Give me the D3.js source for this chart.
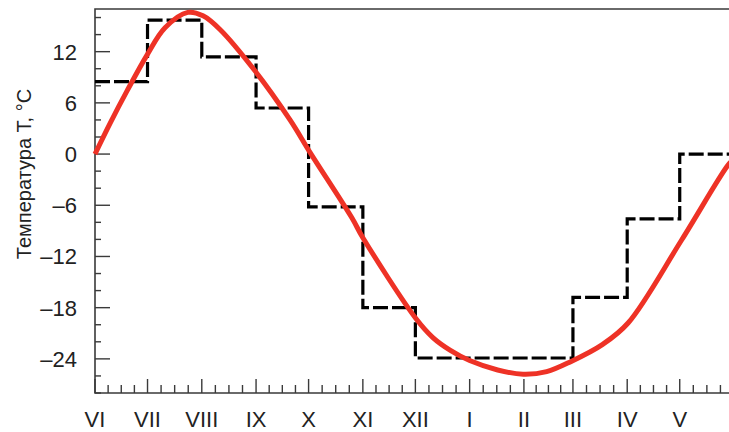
<!DOCTYPE html>
<html>
<head>
<meta charset="utf-8">
<script src="https://cdn.jsdelivr.net/npm/d3@7"></script>
<style>
  html, body { margin: 0; padding: 0; background: #fff; }
  svg { display: block; font-family: "Liberation Sans", Arial, sans-serif; }
</style>
</head>
<body>
<svg id="chart" width="729" height="432"></svg>
<script>
// ── Data ──────────────────────────────────────────────────────────────────────

const months    = ['VI', 'VII', 'VIII', 'IX', 'X', 'XI', 'XII', 'I', 'II', 'III', 'IV', 'V'];
const monthDays = [30, 31, 31, 30, 31, 30, 31, 31, 28, 31, 30, 31];

// monthly mean temperature (dashed step line)
const monthMean = [8.5, 15.7, 11.4, 5.4, -6.2, -18.0, -23.9, -23.9, -23.9, -16.8, -7.6, 0];

// smoothed annual course (red line), day counted from 1 June
const curveDay  = [0, 8.6, 18.3, 29.7, 40, 53, 61.7, 71.4, 90.8, 111.4, 122.8, 146.8, 153, 183.4, 193, 203, 214, 230, 244.5, 258, 272, 290, 304.5, 335, 361.6, 365];
const curveTemp = [0, 3.6, 7.4, 11.6, 14.8, 16.6, 16.2, 14.6, 9.9, 4.0, 0.2, -7.5, -9.8, -19.3, -21.5, -23.0, -24.2, -25.3, -25.8, -25.5, -24.3, -22.3, -19.8, -10.1, -1.3, -0.6];

const yTicks = [-24, -18, -12, -6, 0, 6, 12];

// ── Layout ────────────────────────────────────────────────────────────────────

const svg = d3.select('#chart');
const plotL = 95, plotR = 734, plotT = 9, plotB = 393;

const x = d3.scaleLinear().domain([0, 365]).range([plotL, plotR]);
const y = d3.scaleLinear().domain([-28, 17]).range([plotB, plotT]);

const monthStart = d3.cumsum([0, ...monthDays]);   // 13 boundaries
const axisColor = '#3a3a3a';

// ── Axes ──────────────────────────────────────────────────────────────────────

const g = svg.append('g');

// frame: left, bottom, top
g.append('path')
  .attr('d', `M${plotR},${plotT}H${plotL}V${plotB}H${plotR}`)
  .attr('fill', 'none').attr('stroke', axisColor).attr('stroke-width', 1.6);

// y ticks (inward)
d3.range(-28, 17, 2).forEach(v => {
  const major = v % 6 === 0;
  g.append('line')
    .attr('x1', plotL).attr('x2', plotL + (major ? 15 : 6))
    .attr('y1', y(v)).attr('y2', y(v))
    .attr('stroke', axisColor).attr('stroke-width', 1.4);
});

g.selectAll('text.ytick').data(yTicks).join('text')
  .attr('class', 'ytick')
  .attr('x', 77).attr('y', d => y(d))
  .attr('dy', '0.36em')
  .attr('text-anchor', 'end')
  .attr('font-size', 22).attr('fill', '#222')
  .text(d => d < 0 ? '–' + Math.abs(d) : d);

// x ticks (inward), four per month
monthDays.forEach((len, i) => {
  for (let q = 0; q < 4; q++) {
    const d = monthStart[i] + len * q / 4;
    g.append('line')
      .attr('x1', x(d)).attr('x2', x(d))
      .attr('y1', plotB).attr('y2', plotB - (q === 0 ? 14 : 8))
      .attr('stroke', axisColor).attr('stroke-width', 1.4);
  }
});

g.selectAll('text.xtick').data(months).join('text')
  .attr('class', 'xtick')
  .attr('x', (d, i) => x(monthStart[i]))
  .attr('y', 427)
  .attr('text-anchor', 'middle')
  .attr('font-size', 22).attr('fill', '#222')
  .text(d => d);

g.append('text')
  .attr('transform', 'translate(31,174) rotate(-90)')
  .attr('text-anchor', 'middle')
  .attr('font-size', 20).attr('fill', '#222')
  .text('Температура T, °C');

// ── Series ────────────────────────────────────────────────────────────────────

const stepData = monthMean.map((v, i) => ({ d: monthStart[i], v }))
  .concat([{ d: 365, v: monthMean[monthMean.length - 1] }]);

svg.append('path')
  .datum(stepData)
  .attr('fill', 'none')
  .attr('stroke', '#000')
  .attr('stroke-width', 3.2)
  .attr('stroke-dasharray', '15,4')
  .attr('d', d3.line().x(p => x(p.d)).y(p => y(p.v)).curve(d3.curveStepAfter));

svg.append('path')
  .datum(curveDay.map((d, i) => ({ d, v: curveTemp[i] })))
  .attr('fill', 'none')
  .attr('stroke', '#ee3226')
  .attr('stroke-width', 5)
  .attr('stroke-linejoin', 'round')
  .attr('d', d3.line().x(p => x(p.d)).y(p => y(p.v)).curve(d3.curveCatmullRom));
</script>
</body>
</html>
